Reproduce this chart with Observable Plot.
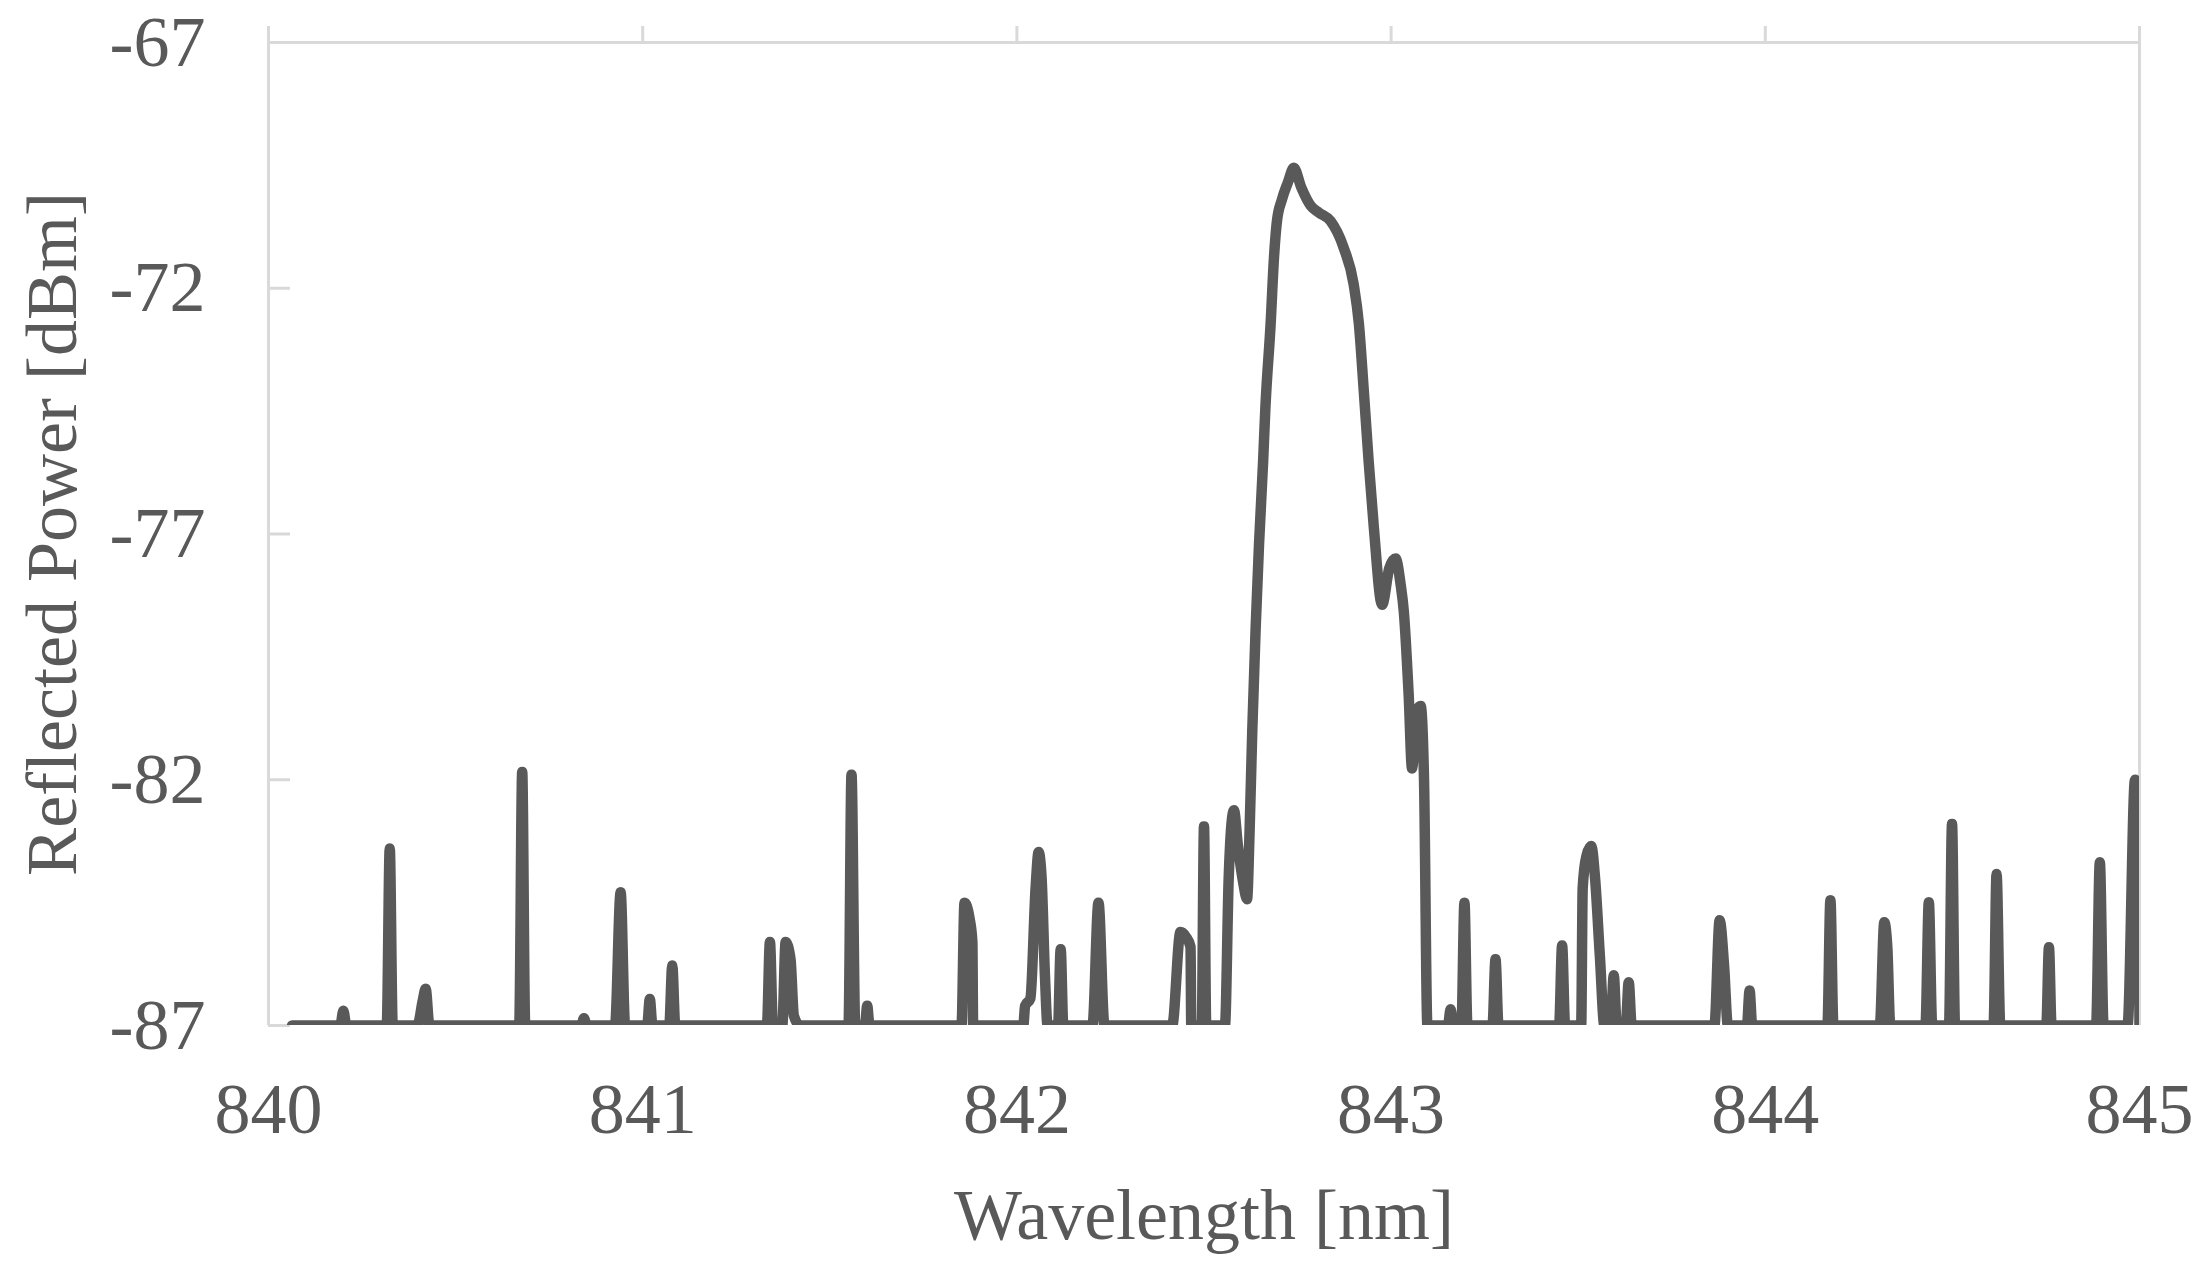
<!DOCTYPE html>
<html>
<head>
<meta charset="utf-8">
<script src="https://cdn.jsdelivr.net/npm/d3@7"></script>
<script src="https://cdn.jsdelivr.net/npm/@observablehq/plot@0.6"></script>
<style>
  html, body { margin: 0; padding: 0; background: #ffffff; }
  #chart { width: 2211px; height: 1266px; }
</style>
</head>
<body>
<div id="chart"></div>
<script>
// Wavelength [nm] of each trace vertex
const wavelength = [
  840.063,
  840.192, 840.200, 840.208,
  840.316, 840.324, 840.332,
  840.398, 840.412, 840.420, 840.430,
  840.670, 840.678, 840.686,
  840.836, 840.843, 840.850,
  840.926, 840.941, 840.953,
  841.012, 841.019, 841.026,
  841.071, 841.079, 841.087,
  841.332, 841.340, 841.348,
  841.373, 841.382, 841.395, 841.404, 841.420,
  841.550, 841.558, 841.568,
  841.594, 841.600, 841.606,
  841.852, 841.860, 841.873, 841.881, 841.883,
  842.017, 842.022, 842.036, 842.050, 842.058, 842.066, 842.075, 842.082,
  842.110, 842.117, 842.124,
  842.202, 842.218, 842.234,
  842.415, 842.437, 842.452, 842.464, 842.466,
  842.494, 842.500, 842.506,
  842.556, 842.566, 842.574, 842.580, 842.590, 842.605, 842.615, 842.622,
  842.629, 842.638, 842.647, 842.658, 842.664, 842.678, 842.687, 842.695,
  842.708, 842.724, 842.740, 842.760, 842.785, 842.807, 842.838, 842.873,
  842.900, 842.914, 842.927, 842.940, 842.954, 842.976, 842.995, 843.012,
  843.025, 843.034, 843.047, 843.056, 843.068, 843.079, 843.088, 843.097,
  843.152, 843.159, 843.166,
  843.188, 843.196, 843.204,
  843.271, 843.279, 843.287,
  843.449, 843.457, 843.465,
  843.508, 843.512, 843.522, 843.535, 843.545, 843.558, 843.570,
  843.587, 843.595, 843.603,
  843.627, 843.635, 843.643,
  843.864, 843.878, 843.890, 843.900,
  843.951, 843.958, 843.965,
  844.166, 844.174, 844.182,
  844.306, 844.318, 844.326, 844.334,
  844.428, 844.437, 844.446,
  844.491, 844.499, 844.507,
  844.610, 844.618, 844.628,
  844.751, 844.758, 844.765,
  844.884, 844.894, 844.904,
  844.968, 844.988, 844.997, 845.000
];

// Reflected power [dBm] at each vertex (floor of the display is -87)
const power = [
  -87,
  -87, -86.7, -87,
  -87, -83.4, -87,
  -87, -86.5, -86.25, -87,
  -87, -81.84, -87,
  -87, -86.85, -87,
  -87, -84.29, -87,
  -87, -86.46, -87,
  -87, -85.78, -87,
  -87, -85.3, -87,
  -87, -85.3, -85.65, -86.8, -87,
  -87, -81.9, -87,
  -87, -86.6, -87,
  -87, -84.5, -84.8, -85.3, -87,
  -87, -86.6, -86.45, -84.2, -83.47, -84.0, -86.0, -87,
  -87, -85.45, -87,
  -87, -84.5, -87,
  -87, -85.1, -85.2, -85.4, -87,
  -87, -82.95, -87,
  -87, -84.0, -82.85, -82.62, -83.3, -84.1, -84.43, -83.0,
  -81.0, -78.92, -77.22, -75.52, -74.44, -72.73, -71.38, -70.63,
  -70.2, -69.85, -69.55, -69.95, -70.32, -70.46, -70.63, -71.17,
  -71.92, -72.73, -74.09, -75.52, -76.88, -78.44, -77.7, -77.5,
  -78.0, -78.58, -80.28, -81.77, -80.6, -80.5, -82.0, -87,
  -87, -86.67, -87,
  -87, -84.5, -87,
  -87, -85.65, -87,
  -87, -85.37, -87,
  -87, -84.2, -83.55, -83.35, -84.0, -85.6, -87,
  -87, -85.98, -87,
  -87, -86.12, -87,
  -87, -84.86, -85.8, -87,
  -87, -86.29, -87,
  -87, -84.45, -87,
  -87, -84.9, -85.4, -87,
  -87, -84.49, -87,
  -87, -82.9, -87,
  -87, -83.92, -87,
  -87, -85.41, -87,
  -87, -83.68, -87,
  -87, -82.0, -82.1, -87
];

const xTicks = [840, 841, 842, 843, 844, 845];
const yTicks = [-67, -72, -77, -82, -87];
const xLabel = "Wavelength [nm]";
const yLabel = "Reflected Power [dBm]";

const data = wavelength.map((w, i) => ({w, p: power[i]}));

const frameColor = "#d9d9d9";
const lineColor = "#595959";
const textColor = "#595959";
const font = "'Liberation Serif', 'Times New Roman', serif";

const chart = Plot.plot({
  width: 2211,
  height: 1266,
  marginLeft: 268,
  marginRight: 72,
  marginTop: 42,
  marginBottom: 241,
  x: {domain: [840, 845]},
  y: {domain: [-87, -67]},
  style: {fontFamily: font, fontSize: "72px", color: textColor, background: "#ffffff"},
  marks: [
    Plot.ruleY([-67], {stroke: frameColor, strokeWidth: 3}),
    Plot.ruleX([840, 845], {stroke: frameColor, strokeWidth: 3}),
    Plot.axisX({anchor: "top", ticks: xTicks, tickSize: 17, tickFormat: () => "", stroke: frameColor, strokeWidth: 3, label: null}),
    Plot.axisY({anchor: "left", ticks: yTicks, tickSize: 22, dx: 22, tickFormat: () => "", stroke: frameColor, strokeWidth: 3, label: null}),
    Plot.axisX({anchor: "bottom", ticks: xTicks, tickSize: 0, tickPadding: 56, tickFormat: d => String(d), fill: textColor, fontSize: 72, label: null}),
    Plot.axisY({anchor: "left", ticks: yTicks, tickSize: 0, tickPadding: 63, tickFormat: d => String(d), fill: textColor, fontSize: 72, label: null}),
    Plot.line(data, {x: "w", y: "p", curve: "monotone-x", stroke: lineColor, strokeWidth: 10.5, strokeLinejoin: "round", strokeLinecap: "round", clip: true}),
    Plot.text([xLabel], {text: d => d, frameAnchor: "bottom", dy: 213, lineAnchor: "bottom", textAnchor: "middle", fontSize: 72, fill: textColor}),
    Plot.text([yLabel], {text: d => d, frameAnchor: "left", dx: -193, rotate: -90, lineAnchor: "bottom", textAnchor: "middle", fontSize: 72, fill: textColor})
  ]
});

document.getElementById("chart").appendChild(chart);
</script>
</body>
</html>
